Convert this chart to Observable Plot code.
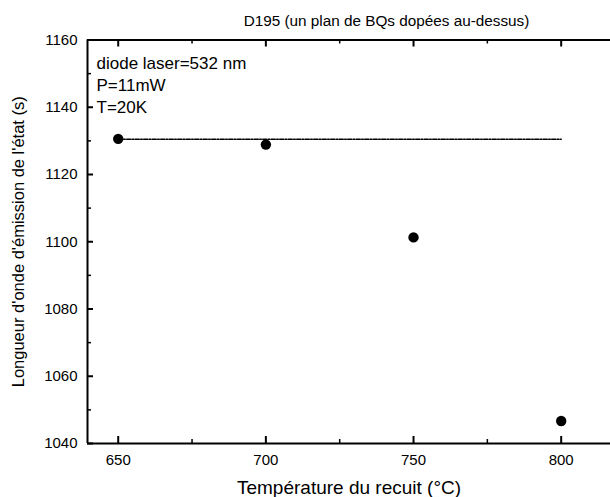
<!DOCTYPE html>
<html>
<head>
<meta charset="utf-8">
<script src="https://cdn.jsdelivr.net/npm/d3@7"></script>
<script src="https://cdn.jsdelivr.net/npm/@observablehq/plot@0.6"></script>
<style>
  html, body { margin: 0; padding: 0; background: #fff; }
</style>
</head>
<body>
<div id="chart"></div>
<script>
// Emission wavelength vs. annealing temperature (sample D195)
const temperatures = [650, 700, 750, 800];
const wavelengths = [1130.6, 1128.9, 1101.3, 1046.7];
const fitRange = [650, 800];
const fitLevel = 1130.5;
const xMajorTicks = [650, 700, 750, 800];
const xMinorTicks = [675, 725, 775];
const yMajorTicks = [1040, 1060, 1080, 1100, 1120, 1140, 1160];
const yMinorTicks = [1050, 1070, 1090, 1110, 1130, 1150];
const annotations = ["diode laser=532 nm", "P=11mW", "T=20K"];
const title = "D195 (un plan de BQs dopées au-dessus)";
const xLabel = "Température du recuit (°C)";
const yLabel = "Longueur d'onde d'émission de l'état (s)";
const xDomain = [639.6, 816.7];
const yDomain = [1040, 1160];

const points = temperatures.map((t, i) => ({t, w: wavelengths[i]}));
const fitLine = fitRange.map(t => ({t, w: fitLevel}));

const W = 610, H = 497;
const mL = 87, mR = 0, mT = 39.5, mB = 54;
const frameW = W - mL - mR, frameH = H - mT - mB;

const chart = Plot.plot({
  width: W,
  height: H,
  marginLeft: mL,
  marginRight: mR,
  marginTop: mT,
  marginBottom: mB,
  style: {fontFamily: "'Liberation Sans', Arial, sans-serif", fontSize: "15px", color: "#000", background: "#fff"},
  x: {domain: xDomain, label: null},
  y: {domain: yDomain, label: null},
  marks: [
    // tick labels
    Plot.axisX({ticks: xMajorTicks, tickFormat: d => String(d), tickSize: 0, tickPadding: 11, fontSize: 15, label: null}),
    Plot.axisY({ticks: yMajorTicks, tickFormat: d => String(d), tickSize: 0, tickPadding: 10, fontSize: 15, label: null}),
    // inward ticks on bottom and top edges
    Plot.ruleX(xMajorTicks, {x: d => d, insetTop: frameH - 7, stroke: "#000", strokeWidth: 2}),
    Plot.ruleX(xMinorTicks, {x: d => d, insetTop: frameH - 4, stroke: "#000", strokeWidth: 1.5}),
    Plot.ruleX(xMajorTicks, {x: d => d, insetBottom: frameH - 7, stroke: "#000", strokeWidth: 2}),
    Plot.ruleX(xMinorTicks, {x: d => d, insetBottom: frameH - 4, stroke: "#000", strokeWidth: 1.5}),
    // inward ticks on the left edge
    Plot.ruleY(yMajorTicks, {y: d => d, insetRight: frameW - 6, stroke: "#000", strokeWidth: 2}),
    Plot.ruleY(yMinorTicks, {y: d => d, insetRight: frameW - 4, stroke: "#000", strokeWidth: 1.5}),
    // frame edges
    Plot.ruleY([yDomain[0], yDomain[1]], {stroke: "#000", strokeWidth: 2}),
    Plot.ruleX([xDomain[0]], {stroke: "#000", strokeWidth: 2}),
    // constant reference level
    Plot.line(fitLine, {x: "t", y: "w", stroke: "#000", strokeWidth: 1.6, strokeDasharray: "4,1.5,1.5,1.5"}),
    // measurements
    Plot.dot(points, {x: "t", y: "w", r: 5.2, fill: "#000", stroke: null}),
    // measurement conditions
    Plot.text([annotations.join("\n")], {
      frameAnchor: "top-left", textAnchor: "start", lineAnchor: "top",
      dx: 9, dy: 13.5, lineHeight: 1.29, fontSize: 17, fill: "#000"
    }),
    // title
    Plot.text([title], {frameAnchor: "top", lineAnchor: "bottom", dy: -14, dx: 37.5, fontSize: 15.3, fill: "#000"}),
    // axis labels
    Plot.text([xLabel], {frameAnchor: "bottom", lineAnchor: "bottom", dy: 50, fontSize: 19, fill: "#000"}),
    Plot.text([yLabel], {frameAnchor: "left", textAnchor: "middle", rotate: -90, lineAnchor: "bottom", dx: -64, fontSize: 16.5, fill: "#000"})
  ]
});

document.getElementById("chart").append(chart);
</script>
</body>
</html>
